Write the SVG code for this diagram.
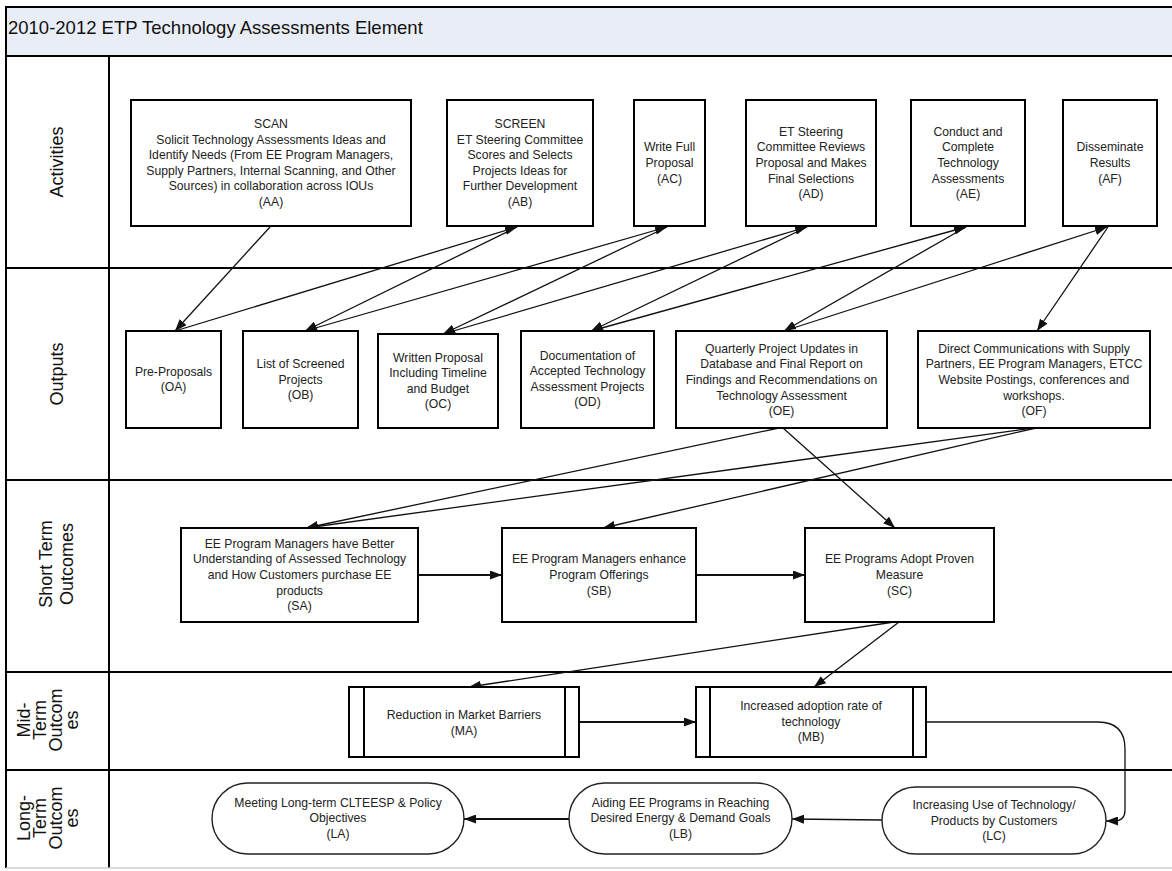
<svg xmlns="http://www.w3.org/2000/svg" width="1172" height="871" viewBox="0 0 1172 871">
<defs>
<marker id="ah" viewBox="0 0 12 9" refX="12" refY="4.5" markerWidth="12" markerHeight="9" markerUnits="userSpaceOnUse" orient="auto"><path d="M0,0 L12,4.5 L0,9 z" fill="#111"/></marker>
<style>
.frame{fill:none;stroke:#000;stroke-width:2}
.lane{stroke:#000;stroke-width:2}
.box{fill:#fff;stroke:#000;stroke-width:2}
.oval{fill:#fff;stroke:#222;stroke-width:1.4}
.t{font-family:"Liberation Sans",Arial,sans-serif;font-size:12.2px;fill:#222;text-anchor:middle}
.lbl{font-family:"Liberation Sans",Arial,sans-serif;font-size:18px;fill:#111;text-anchor:middle}
.title{font-family:"Liberation Sans",Arial,sans-serif;font-size:18.5px;fill:#111}
.c{fill:none;stroke:#111;stroke-width:1.3;marker-end:url(#ah)}
.c2{fill:none;stroke:#111;stroke-width:2;marker-end:url(#ah)}
</style>
</defs>
<rect x="0" y="0" width="1172" height="871" fill="#fff"/>

<g id="frame">
<rect x="6" y="7" width="1170" height="49" fill="#e9edf6" stroke="#000" stroke-width="2"/>
<text class="title" x="8" y="34">2010-2012 ETP Technology Assessments Element</text>
<line class="lane" x1="6" y1="56" x2="6" y2="868"/>
<line class="lane" x1="109" y1="56" x2="109" y2="868"/>
<line class="lane" x1="6" y1="268" x2="1172" y2="268"/>
<line class="lane" x1="6" y1="480" x2="1172" y2="480"/>
<line class="lane" x1="6" y1="672" x2="1172" y2="672"/>
<line class="lane" x1="6" y1="770" x2="1172" y2="770"/>
<line x1="6" y1="868" x2="1172" y2="868" stroke="#ccc" stroke-width="1.5"/>
</g>

<g id="lane-labels">
<text class="lbl" transform="translate(63,162) rotate(-90)">Activities</text>
<text class="lbl" transform="translate(63,374) rotate(-90)">Outputs</text>
<text class="lbl" transform="translate(52,564) rotate(-90)"><tspan x="0" dy="0">Short Term</tspan><tspan x="0" dy="21">Outcomes</tspan></text>
<text class="lbl" transform="translate(30,720) rotate(-90)"><tspan x="0" dy="0">Mid-</tspan><tspan x="0" dy="16">Term</tspan><tspan x="0" dy="16">Outcom</tspan><tspan x="0" dy="16">es</tspan></text>
<text class="lbl" transform="translate(30,818) rotate(-90)"><tspan x="0" dy="0">Long-</tspan><tspan x="0" dy="16">Term</tspan><tspan x="0" dy="16">Outcom</tspan><tspan x="0" dy="16">es</tspan></text>
</g>

<g id="connectors">
<line class="c" x1="270" y1="227" x2="175" y2="331"/>
<line class="c" x1="175" y1="331" x2="517" y2="227"/>
<line class="c" x1="517" y1="227" x2="305" y2="331"/>
<line class="c" x1="305" y1="331" x2="667" y2="227"/>
<line class="c" x1="667" y1="227" x2="443" y2="334"/>
<line class="c" x1="443" y1="334" x2="807" y2="227"/>
<line class="c" x1="807" y1="227" x2="591" y2="331"/>
<line class="c" x1="591" y1="331" x2="966" y2="227"/>
<line class="c" x1="966" y1="227" x2="784" y2="331"/>
<line class="c" x1="784" y1="331" x2="1107" y2="227"/>
<line class="c" x1="1108" y1="227" x2="1037" y2="331"/>
<line class="c" x1="779" y1="428" x2="306" y2="528"/>
<line class="c" x1="783" y1="428" x2="895" y2="528"/>
<line class="c" x1="1033" y1="428" x2="306" y2="528"/>
<line class="c" x1="1036" y1="428" x2="603" y2="528"/>
<line class="c2" x1="418" y1="575" x2="502" y2="575"/>
<line class="c2" x1="696" y1="575" x2="805" y2="575"/>
<line class="c" x1="894" y1="622" x2="469" y2="687"/>
<line class="c" x1="899" y1="622" x2="814" y2="687"/>
<line class="c2" x1="579" y1="722" x2="696" y2="722"/>
<path class="c" d="M926,722 H1098 Q1125,722 1125,749 V810 Q1125,821 1114,821 L1106,821"/>
<line class="c" x1="882" y1="820" x2="792" y2="819"/>
<line class="c2" x1="569" y1="819" x2="464" y2="819"/>
</g>

<g id="AA"><rect class="box" x="131" y="100" width="280" height="126"/>
<text class="t" y="128"><tspan x="271">SCAN</tspan><tspan x="271" dy="15.6">Solicit Technology Assessments Ideas and</tspan><tspan x="271" dy="15.6">Identify Needs (From EE Program Managers,</tspan><tspan x="271" dy="15.6">Supply Partners, Internal Scanning, and Other</tspan><tspan x="271" dy="15.6">Sources) in collaboration across IOUs</tspan><tspan x="271" dy="15.6">(AA)</tspan></text></g>
<g id="AB"><rect class="box" x="447" y="100" width="146" height="126"/>
<text class="t" y="128"><tspan x="520">SCREEN</tspan><tspan x="520" dy="15.6">ET Steering Committee</tspan><tspan x="520" dy="15.6">Scores and Selects</tspan><tspan x="520" dy="15.6">Projects Ideas for</tspan><tspan x="520" dy="15.6">Further Development</tspan><tspan x="520" dy="15.6">(AB)</tspan></text></g>
<g id="AC"><rect class="box" x="634" y="100" width="71" height="126"/>
<text class="t" y="151.4"><tspan x="669.5">Write Full</tspan><tspan x="669.5" dy="15.6">Proposal</tspan><tspan x="669.5" dy="15.6">(AC)</tspan></text></g>
<g id="AD"><rect class="box" x="746" y="100" width="130" height="126"/>
<text class="t" y="135.8"><tspan x="811">ET Steering</tspan><tspan x="811" dy="15.6">Committee Reviews</tspan><tspan x="811" dy="15.6">Proposal and Makes</tspan><tspan x="811" dy="15.6">Final Selections</tspan><tspan x="811" dy="15.6">(AD)</tspan></text></g>
<g id="AE"><rect class="box" x="911" y="100" width="114" height="126"/>
<text class="t" y="135.8"><tspan x="968">Conduct and</tspan><tspan x="968" dy="15.6">Complete</tspan><tspan x="968" dy="15.6">Technology</tspan><tspan x="968" dy="15.6">Assessments</tspan><tspan x="968" dy="15.6">(AE)</tspan></text></g>
<g id="AF"><rect class="box" x="1063" y="100" width="94" height="126"/>
<text class="t" y="151.4"><tspan x="1110">Disseminate</tspan><tspan x="1110" dy="15.6">Results</tspan><tspan x="1110" dy="15.6">(AF)</tspan></text></g>

<g id="OA"><rect class="box" x="126" y="331" width="95" height="97"/>
<text class="t" y="375.7"><tspan x="173.5">Pre-Proposals</tspan><tspan x="173.5" dy="15.6">(OA)</tspan></text></g>
<g id="OB"><rect class="box" x="243" y="331" width="115" height="97"/>
<text class="t" y="367.9"><tspan x="300.5">List of Screened</tspan><tspan x="300.5" dy="15.6">Projects</tspan><tspan x="300.5" dy="15.6">(OB)</tspan></text></g>
<g id="OC"><rect class="box" x="378" y="334" width="120" height="94"/>
<text class="t" y="361.6"><tspan x="438">Written Proposal</tspan><tspan x="438" dy="15.6">Including Timeline</tspan><tspan x="438" dy="15.6">and Budget</tspan><tspan x="438" dy="15.6">(OC)</tspan></text></g>
<g id="OD"><rect class="box" x="521" y="331" width="133" height="97"/>
<text class="t" y="359.6"><tspan x="587.5">Documentation of</tspan><tspan x="587.5" dy="15.6">Accepted Technology</tspan><tspan x="587.5" dy="15.6">Assessment Projects</tspan><tspan x="587.5" dy="15.6">(OD)</tspan></text></g>
<g id="OE"><rect class="box" x="676" y="331" width="211" height="97"/>
<text class="t" y="352.8"><tspan x="781.5">Quarterly Project Updates in</tspan><tspan x="781.5" dy="15.6">Database and Final Report on</tspan><tspan x="781.5" dy="15.6">Findings and Recommendations on</tspan><tspan x="781.5" dy="15.6">Technology Assessment</tspan><tspan x="781.5" dy="15.6">(OE)</tspan></text></g>
<g id="OF"><rect class="box" x="918" y="331" width="232" height="97"/>
<text class="t" y="352.8"><tspan x="1034">Direct Communications with Supply</tspan><tspan x="1034" dy="15.6">Partners, EE Program Managers, ETCC</tspan><tspan x="1034" dy="15.6">Website Postings, conferences and</tspan><tspan x="1034" dy="15.6">workshops.</tspan><tspan x="1034" dy="15.6">(OF)</tspan></text></g>

<g id="SA"><rect class="box" x="181" y="528" width="237" height="94"/>
<text class="t" y="547.8"><tspan x="299.5">EE Program Managers have Better</tspan><tspan x="299.5" dy="15.6">Understanding of Assessed Technology</tspan><tspan x="299.5" dy="15.6">and How Customers purchase EE</tspan><tspan x="299.5" dy="15.6">products</tspan><tspan x="299.5" dy="15.6">(SA)</tspan></text></g>
<g id="SB"><rect class="box" x="502" y="528" width="194" height="94"/>
<text class="t" y="563.4"><tspan x="599">EE Program Managers enhance</tspan><tspan x="599" dy="15.6">Program Offerings</tspan><tspan x="599" dy="15.6">(SB)</tspan></text></g>
<g id="SC"><rect class="box" x="805" y="528" width="189" height="94"/>
<text class="t" y="563.4"><tspan x="899.5">EE Programs Adopt Proven</tspan><tspan x="899.5" dy="15.6">Measure</tspan><tspan x="899.5" dy="15.6">(SC)</tspan></text></g>

<g id="MA"><rect class="box" x="349" y="687" width="230" height="70"/>
<line x1="364" y1="687" x2="364" y2="757" stroke="#000" stroke-width="2"/><line x1="565" y1="687" x2="565" y2="757" stroke="#000" stroke-width="2"/>
<text class="t" y="718.5"><tspan x="464">Reduction in Market Barriers</tspan><tspan x="464" dy="16">(MA)</tspan></text></g>
<g id="MB"><rect class="box" x="696" y="687" width="230" height="70"/>
<line x1="710" y1="687" x2="710" y2="757" stroke="#000" stroke-width="2"/><line x1="913" y1="687" x2="913" y2="757" stroke="#000" stroke-width="2"/>
<text class="t" y="710"><tspan x="811">Increased adoption rate of</tspan><tspan x="811" dy="15.6">technology</tspan><tspan x="811" dy="15.6">(MB)</tspan></text></g>

<g id="LA"><rect class="oval" x="212" y="783" width="252" height="71" rx="35.5" ry="35.5"/>
<text class="t" y="806.5"><tspan x="338">Meeting Long-term CLTEESP &amp; Policy</tspan><tspan x="338" dy="15.8">Objectives</tspan><tspan x="338" dy="15.8">(LA)</tspan></text></g>
<g id="LB"><rect class="oval" x="569" y="783" width="223" height="71" rx="35.5" ry="35.5"/>
<text class="t" y="806.5"><tspan x="680.5">Aiding EE Programs in Reaching</tspan><tspan x="680.5" dy="15.8">Desired Energy &amp; Demand Goals</tspan><tspan x="680.5" dy="15.8">(LB)</tspan></text></g>
<g id="LC"><rect class="oval" x="882" y="787" width="224" height="67" rx="33.5" ry="33.5"/>
<text class="t" y="809"><tspan x="994">Increasing Use of Technology/</tspan><tspan x="994" dy="15.6">Products by Customers</tspan><tspan x="994" dy="15.6">(LC)</tspan></text></g>
</svg>
